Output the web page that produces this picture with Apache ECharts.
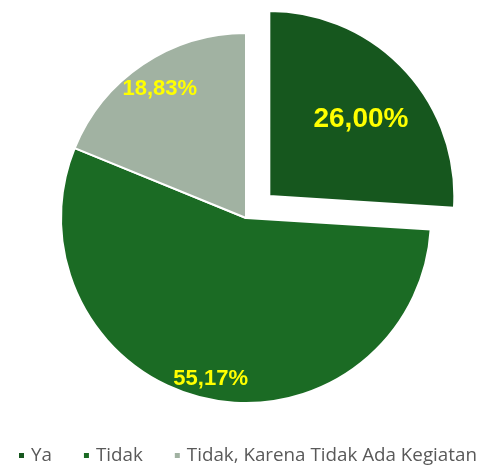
<!DOCTYPE html>
<html>
<head>
<meta charset="utf-8">
<script src="https://cdn.jsdelivr.net/npm/echarts@6/dist/echarts.min.js"></script>
<style>
  html, body { margin: 0; padding: 0; background: #fff; }
  #chart { width: 493px; height: 467px; }
</style>
</head>
<body>
<div id="chart"></div>
<script>
  var categories = ['Ya', 'Tidak', 'Tidak, Karena Tidak Ada Kegiatan'];
  var values = [26.00, 55.17, 18.83];
  var colors = ['#16571E', '#1B6B24', '#A1B2A2'];
  // label nudges from the default inside position (Excel best fit)
  var labelShift = [[22, -11], [-14, 68], [-33, -50]];
  var labelSize = [28, 22, 22];

  var chartDom = document.getElementById('chart');
  var myChart = echarts.init(chartDom);

  var pieData = [];
  for (var i = 0; i < categories.length; i++) {
    pieData.push({
      name: categories[i],
      value: values[i],
      selected: i === 0,
      itemStyle: { color: colors[i] },
      label: { offset: labelShift[i], fontSize: labelSize[i] },
      select: { label: { offset: labelShift[i], fontSize: labelSize[i] } }
    });
  }

  var option = {
    animation: false,
    legend: {
      top: 441,
      left: 12,
      width: 600,
      icon: 'rect',
      itemWidth: 7,
      itemHeight: 7,
      itemGap: 30,
      selectedMode: false,
      textStyle: {
        color: '#595959',
        fontSize: 18.8,
        fontFamily: 'Open Sans',
        padding: [0, 0, 0, 1]
      },
      data: categories
    },
    series: [
      {
        type: 'pie',
        center: [246, 218],
        radius: 185,
        startAngle: 90,
        clockwise: true,
        selectedMode: 'single',
        selectedOffset: 32,
        itemStyle: { borderColor: '#fff', borderWidth: 2 },
        label: {
          show: true,
          position: 'inside',
          color: '#FFFF00',
          fontWeight: 'bold',
          fontFamily: 'Liberation Sans',
          formatter: function (p) {
            return p.value.toFixed(2).replace('.', ',') + '%';
          }
        },
        labelLine: { show: false },
        emphasis: { disabled: true },
        data: pieData
      }
    ]
  };

  myChart.setOption(option);
</script>
</body>
</html>
